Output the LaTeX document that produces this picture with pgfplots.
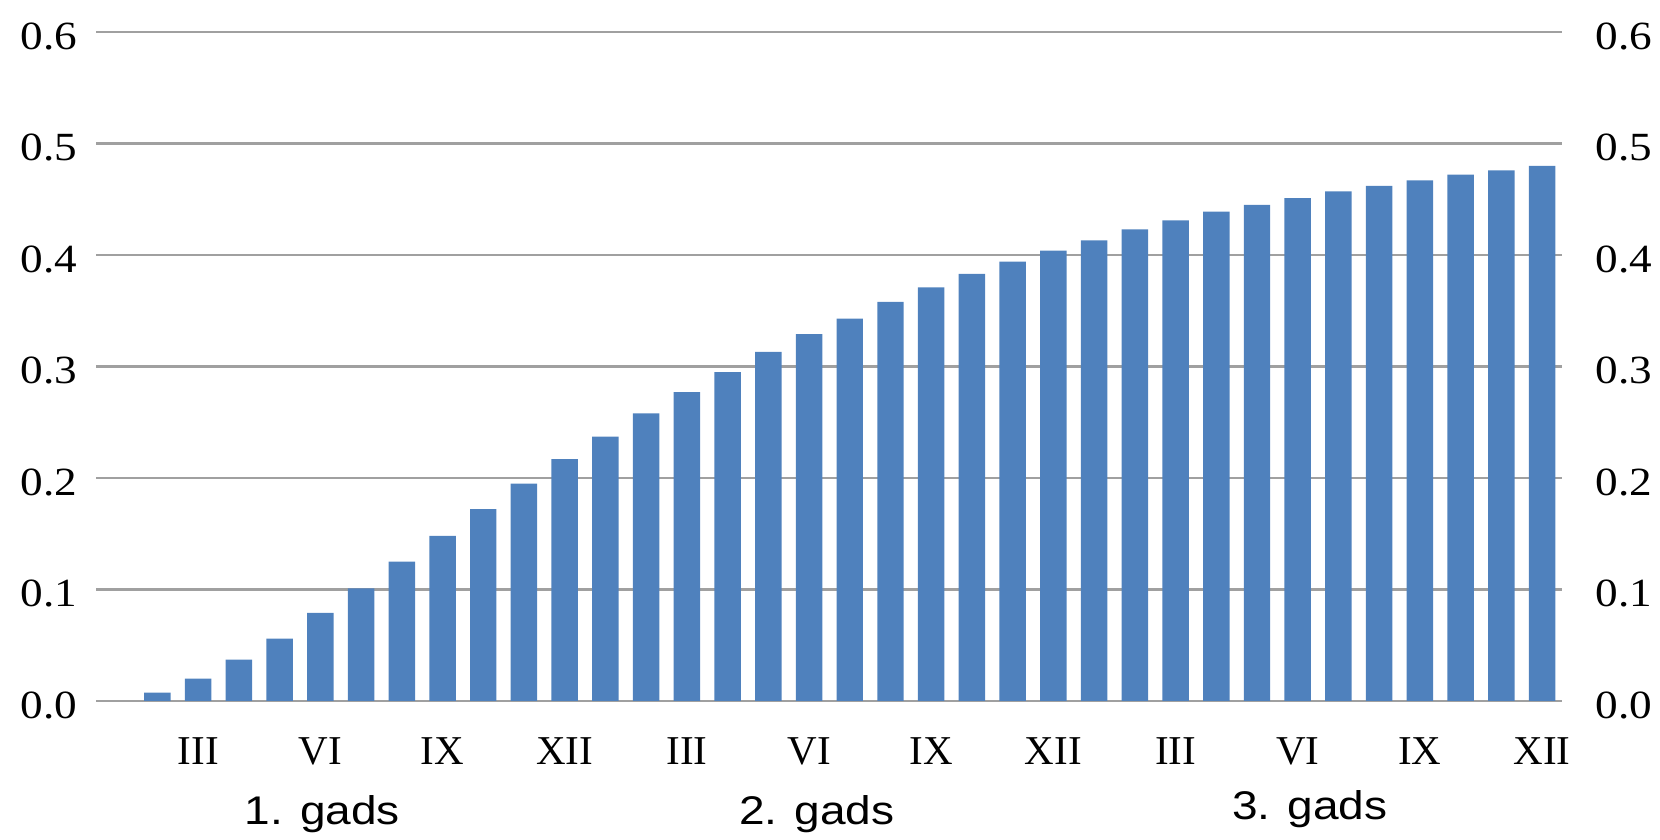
\documentclass[border=0pt]{standalone}
\usepackage{fontspec}
\setmainfont{Liberation Serif}
\newfontfamily\numfont[FakeStretch=1.13]{Liberation Serif}
\newfontfamily\arial[FakeStretch=1.15]{Liberation Sans}
\usepackage{pgfplots}
\pgfplotsset{compat=1.18}
\definecolor{barblue}{RGB}{79,129,189}
\definecolor{gridgray}{RGB}{160,160,160}
\begin{document}
\begin{tikzpicture}
\begin{axis}[
  at={(0,0)}, anchor=south west,
  scale only axis, width=733pt, height=334.5pt,
  xmin=-0.5, xmax=35.5, ymin=0, ymax=0.6,
  ybar, bar width=0.65,
  axis line style={draw=none},
  major tick length=0pt,
  ymajorgrids, grid style={gridgray, line width=1.25pt},
  ytick={0,0.1,0.2,0.3,0.4,0.5,0.6},
  yticklabels={0.0,0.1,0.2,0.3,0.4,0.5,0.6},
  yticklabel style={font=\numfont\fontsize{20}{24}\selectfont, anchor=east, inner sep=0pt, xshift=-9.5pt, yshift=-2.2pt},
  xtick={2,5,8,11,14,17,20,23,26,29,32,35},
  xticklabels={III,VI,IX,XII,III,VI,IX,XII,III,VI,IX,XII},
  xticklabel style={font=\fontsize{20.5}{24}\selectfont, anchor=base, inner sep=0pt, yshift=-31.7pt},
  clip=false,
]
\addplot[fill=barblue, draw=none] coordinates {
(1,0.0075) (2,0.020) (3,0.037) (4,0.056) (5,0.079) (6,0.101) (7,0.125) (8,0.148)
(9,0.172) (10,0.195) (11,0.217) (12,0.237) (13,0.258) (14,0.277) (15,0.295) (16,0.313)
(17,0.329) (18,0.343) (19,0.358) (20,0.371) (21,0.383) (22,0.394) (23,0.404) (24,0.413)
(25,0.423) (26,0.431) (27,0.439) (28,0.445) (29,0.451) (30,0.457) (31,0.462) (32,0.467)
(33,0.472) (34,0.476) (35,0.480)
};
\node[font=\arial\fontsize{20}{24}\selectfont, anchor=base] at (axis cs:5.05,-0.1106) {1. gads};
\node[font=\arial\fontsize{20}{24}\selectfont, anchor=base] at (axis cs:17.19,-0.1106) {2. gads};
\node[font=\arial\fontsize{20}{24}\selectfont, anchor=base] at (axis cs:29.30,-0.1061) {3. gads};
\end{axis}
\begin{axis}[
  at={(0,0)}, anchor=south west,
  scale only axis, width=733pt, height=334.5pt,
  xmin=-0.5, xmax=35.5, ymin=0, ymax=0.6,
  hide x axis,
  axis line style={draw=none},
  major tick length=0pt,
  ytick={0,0.1,0.2,0.3,0.4,0.5,0.6},
  yticklabels={0.0,0.1,0.2,0.3,0.4,0.5,0.6},
  yticklabel pos=right,
  yticklabel style={font=\numfont\fontsize{20}{24}\selectfont, anchor=west, inner sep=0pt, xshift=16.5pt, yshift=-2.2pt},
]
\end{axis}
\path[use as bounding box] (-48.2pt,-69pt) rectangle (781.8pt,350.5pt);
\end{tikzpicture}
\end{document}
